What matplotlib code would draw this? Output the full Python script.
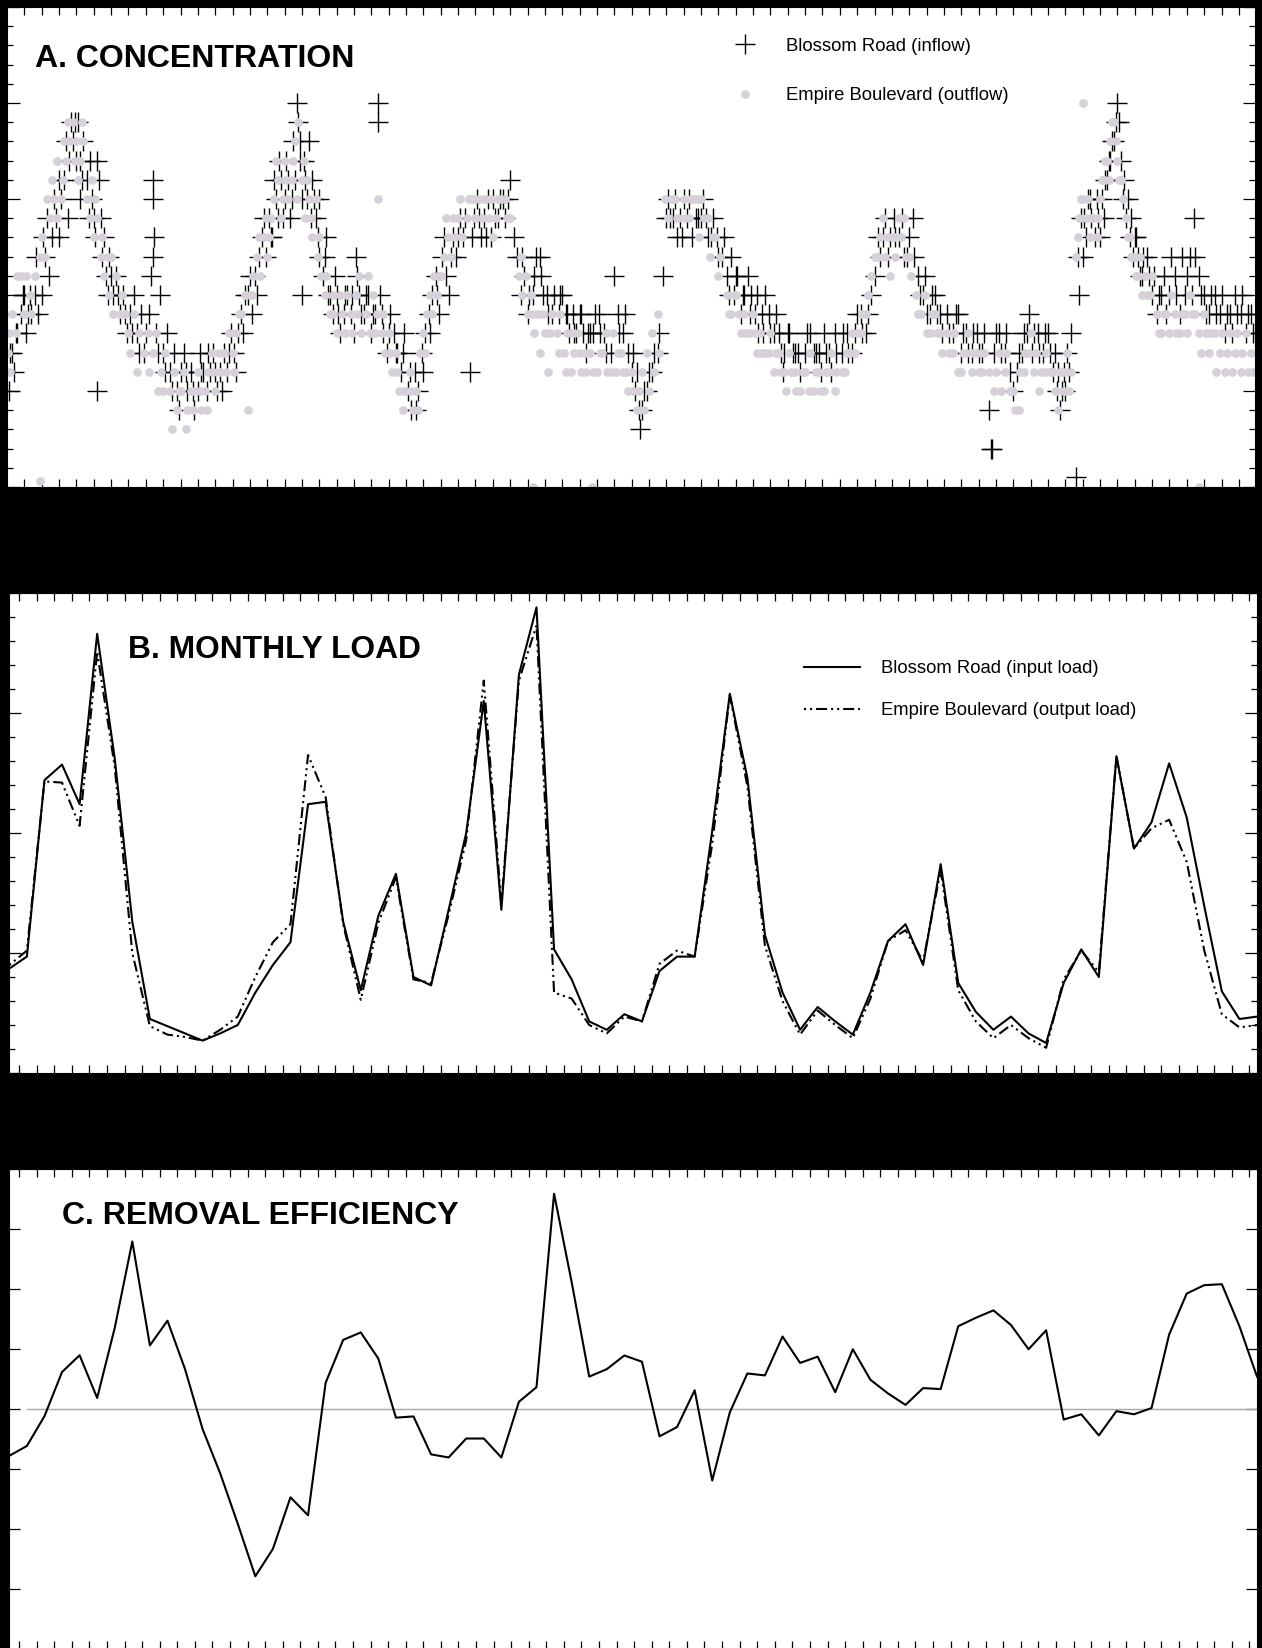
import matplotlib
matplotlib.use("Agg")
from matplotlib import pyplot as plt
from matplotlib.ticker import MultipleLocator, FixedLocator
import numpy as np

plt.rcParams['font.family'] = ['Liberation Sans', 'DejaVu Sans']

# ---- A. concentration samples (month from start, total P mg/L) ----
blossom_conc = [
    (0.1, .05), (0.2, .07), (0.4, .06), (0.6, .08), (0.8, .09), (1.0, .10), (1.2, .09), (1.4, .09),
    (1.6, .10), (1.8, .09), (2.0, .10), (2.2, .12), (2.4, .11), (2.6, .13), (2.8, .14), (3.0, .13),
    (3.1, .15), (3.3, .16), (3.5, .14), (3.6, .17), (3.8, .18), (3.9, .19), (4.1, .19), (4.2, .17),
    (4.3, .16), (4.4, .18), (4.6, .16), (4.7, .14), (4.9, .15), (5.1, .13), (5.2, .17), (5.3, .16),
    (5.2, .05), (5.5, .12), (5.6, .13), (5.7, .11), (5.9, .12), (6.1, .10), (6.3, .11), (6.5, .09),
    (6.7, .10), (6.9, .08), (7.1, .09), (7.3, .10), (7.5, .08), (7.7, .09), (7.9, .07), (8.4, .16),
    (8.4, .15), (8.4, .12), (8.5, .13), (8.2, .09), (8.6, .08), (8.8, .10), (9.0, .07), (9.2, .08),
    (9.4, .06), (9.6, .07), (9.8, .05), (10.0, .06), (10.2, .07), (10.4, .05), (10.6, .06), (10.8, .04),
    (11.0, .05), (11.1, .07), (11.3, .06), (11.5, .05), (11.7, .06), (11.9, .07), (12.1, .05), (12.3, .06),
    (12.5, .07), (12.7, .06), (12.9, .08), (13.1, .07), (13.3, .08), (13.5, .09), (13.7, .10), (13.9, .10),
    (14.1, .09), (14.3, .11), (14.5, .12), (14.7, .13), (14.9, .12), (15.1, .14), (15.3, .13), (15.5, .15),
    (15.6, .14), (15.8, .16), (16.0, .15), (16.1, .17), (16.3, .14), (16.5, .18), (16.6, .16), (16.7, .20),
    (16.8, .19), (16.9, .17), (17.0, .15), (17.2, .16), (17.4, .18), (17.5, .14), (17.7, .15), (17.9, .13),
    (17.0, .10), (18.0, .12), (18.2, .11), (18.4, .13), (18.6, .10), (18.8, .09), (19.0, .10), (19.2, .08),
    (19.4, .09), (19.6, .10), (19.8, .09), (20.0, .08), (20.2, .11), (20.4, .09), (21.4, .20), (21.4, .19),
    (20.6, .09), (20.8, .10), (21.0, .08), (21.2, .09), (21.5, .10), (21.7, .08), (21.9, .07), (22.1, .09),
    (22.3, .08), (22.5, .07), (22.7, .06), (22.9, .08), (23.1, .05), (23.3, .04), (23.5, .06), (23.7, .05),
    (23.9, .07), (24.1, .08), (24.3, .09), (24.5, .10), (24.7, .11), (24.9, .09), (25.1, .12), (25.3, .11),
    (25.5, .10), (25.7, .13), (25.9, .12), (26.1, .14), (26.3, .13), (26.7, .06), (26.9, .14), (27.1, .15),
    (27.3, .13), (27.5, .14), (27.7, .15), (27.9, .13), (28.1, .14), (28.4, .15), (28.7, .14), (29.0, .16),
    (29.4, .12), (29.6, .10), (29.8, .11), (30.0, .09), (30.3, .10), (30.5, .12), (30.7, .12), (30.9, .10),
    (31.2, .09), (31.5, .10), (31.8, .09), (32.0, .10), (32.2, .09), (32.4, .08), (32.6, .09), (32.8, .08),
    (33.0, .09), (33.2, .08), (33.4, .07), (33.6, .08), (33.9, .09), (34.2, .08), (34.5, .07), (35.0, .11),
    (35.3, .08), (35.6, .09), (36.0, .06), (36.2, .05), (36.4, .04), (36.5, .03), (36.7, .05), (37.0, .06),
    (37.3, .07), (37.6, .08), (37.8, .11), (38.0, .14), (38.1, .15), (38.4, .14), (38.6, .13), (38.8, .14),
    (39.0, .15), (39.2, .14), (39.5, .13), (39.8, .14), (40.1, .15), (40.4, .13), (40.7, .14), (41.0, .12),
    (41.3, .13), (41.5, .11), (41.7, .12), (41.9, .10), (42.1, .11), (42.3, .09), (42.5, .10), (42.7, .11),
    (42.9, .10), (43.1, .09), (43.3, .08), (43.5, .09), (43.7, .10), (43.9, .09), (44.2, .08), (44.7, .06),
    (44.5, .08), (44.8, .07), (45.1, .08), (45.4, .07), (45.7, .06), (46.0, .07), (46.3, .08), (46.6, .07),
    (46.9, .06), (47.2, .07), (47.5, .06), (47.8, .07), (48.1, .07), (48.4, .08), (48.7, .07), (49.0, .09),
    (49.3, .08), (49.6, .09), (50.0, .11), (50.3, .12), (50.5, .13), (50.8, .12), (51.1, .14), (51.4, .13),
    (51.7, .12), (52.0, .13), (52.3, .12), (52.5, .11), (52.8, .10), (53.0, .09), (53.3, .10), (53.6, .09),
    (53.9, .08), (54.2, .09), (54.5, .08), (54.8, .09), (55.1, .08), (55.4, .07), (55.7, .08), (56.0, .07),
    (56.3, .08), (56.6, .04), (56.7, .02), (56.8, .02), (56.9, .07), (57.2, .08), (57.5, .07), (57.8, .06),
    (58.0, .05), (58.3, .07), (58.6, .08), (58.9, .09), (59.2, .08), (59.5, .07), (59.8, .08), (60.1, .07),
    (60.3, .06), (60.5, .05), (60.7, .04), (60.9, .06), (61.1, .07), (61.3, .08), (61.6, .005), (61.8, .10),
    (62.0, .12), (62.1, .14), (62.3, .15), (62.5, .14), (62.7, .13), (62.9, .14), (63.1, .15), (63.3, .16),
    (63.5, .17), (63.7, .18), (63.9, .19), (64.0, .20), (64.2, .17), (64.4, .16), (64.6, .15), (64.8, .14),
    (65.0, .13), (65.2, .12), (65.4, .11), (65.7, .12), (66.0, .10), (66.3, .09), (66.5, .10), (66.8, .09),
    (67.0, .10), (67.3, .11), (67.6, .09), (67.9, .10), (68.2, .12), (68.4, .14), (68.7, .11), (69.0, .10),
    (69.3, .09), (69.6, .10), (69.9, .09), (70.2, .08), (70.5, .09), (70.8, .10), (71.1, .09), (71.4, .08),
    (71.7, .09),
    (0.3, .07), (0.5, .08), (0.9, .10), (1.1, .08), (1.3, .10), (1.7, .12), (2.1, .13), (2.3, .14),
    (2.7, .15), (3.0, .16), (3.4, .18), (3.7, .19), (4.0, .17), (4.2, .15), (4.8, .17), (5.0, .14),
    (5.4, .14), (5.8, .10), (6.0, .11), (6.4, .10), (6.8, .09), (7.2, .08), (7.6, .07), (8.0, .08),
    (8.3, .11), (8.7, .07), (9.1, .06), (9.5, .05), (9.9, .04), (10.3, .06), (10.7, .05), (11.2, .06),
    (11.6, .07), (12.0, .06), (12.4, .05), (12.8, .07), (13.2, .06), (13.6, .08), (14.0, .11), (14.4, .10),
    (14.8, .14), (15.2, .13), (15.4, .16), (15.7, .17), (15.9, .14), (16.2, .16), (16.4, .15), (16.9, .18),
    (17.1, .17), (17.3, .15), (17.6, .16), (17.8, .14), (18.0, .15), (18.3, .12), (18.5, .10), (18.9, .11),
    (19.1, .09), (19.5, .10), (19.9, .10), (20.1, .12), (20.3, .10), (20.7, .10), (21.1, .09), (21.6, .09),
    (22.0, .08), (22.4, .07), (22.8, .07), (23.2, .06), (23.6, .04), (24.0, .06), (24.4, .08), (24.8, .10),
    (25.2, .13), (25.6, .12), (26.0, .13), (26.4, .14), (26.8, .13), (27.2, .14), (27.6, .13), (28.0, .15),
    (28.3, .14), (28.6, .15), (28.9, .15), (29.2, .13), (29.7, .12), (30.1, .10), (30.4, .11), (30.8, .11),
    (31.1, .10), (31.4, .09), (31.9, .10), (32.3, .09), (32.7, .08), (33.1, .09), (33.5, .08), (33.8, .08),
    (34.1, .09), (34.4, .08), (34.8, .07), (35.2, .09), (35.5, .08), (35.8, .07), (36.1, .07), (36.3, .06),
    (36.6, .04), (36.9, .05), (37.2, .06), (37.5, .07), (38.2, .14), (38.5, .15), (38.9, .13), (39.3, .15),
    (39.7, .14), (40.0, .14), (40.3, .14), (40.6, .13), (40.9, .13), (41.2, .12), (41.6, .10), (42.0, .11),
    (42.4, .10), (42.8, .09), (43.2, .10), (43.6, .08), (44.0, .08), (44.3, .09), (44.6, .07), (45.0, .08),
    (45.3, .07), (45.6, .07), (46.1, .08), (46.5, .07), (46.8, .07), (47.1, .08), (47.4, .07), (47.7, .08),
    (48.2, .08), (48.5, .07), (48.9, .08), (49.2, .09), (49.5, .08), (49.8, .10), (50.2, .13), (50.6, .14),
    (50.9, .13), (51.2, .13), (51.6, .14), (51.9, .12), (52.2, .14), (52.6, .10), (52.9, .11), (53.2, .09),
    (53.5, .10), (53.8, .09), (54.3, .08), (54.7, .09), (55.0, .07), (55.3, .08), (55.6, .07), (55.9, .08),
    (56.2, .07), (57.0, .08), (57.3, .07), (57.6, .08), (58.2, .06), (58.5, .07), (58.8, .08), (59.1, .07),
    (59.4, .08), (59.7, .07), (60.0, .08), (60.4, .07), (60.6, .06), (60.8, .05), (61.0, .05), (61.2, .06),
    (61.7, .12), (61.9, .14), (62.2, .13), (62.4, .15), (62.8, .15), (63.0, .13), (63.2, .14), (63.4, .16),
    (63.6, .17), (63.8, .18), (64.1, .19), (64.3, .15), (64.5, .14), (64.7, .13), (64.9, .12), (65.1, .13),
    (65.3, .11), (65.5, .12), (65.8, .11), (66.1, .11), (66.4, .10), (66.7, .11), (67.1, .12), (67.4, .10),
    (67.7, .12), (68.0, .11), (68.3, .10), (68.5, .12), (68.8, .10), (69.1, .09), (69.4, .10), (69.7, .09),
    (70.0, .10), (70.3, .09), (70.6, .08), (70.9, .09), (71.2, .10), (71.5, .09), (71.8, .08),
]

empire_conc = [
    (0.05, .07), (0.2, .06), (0.5, .08), (0.8, .11), (1.0, .09), (1.3, .10), (1.6, .11), (1.9, .12),
    (1.9, .003), (2.2, .12), (2.5, .14), (2.7, .15), (2.9, .14), (3.2, .16), (3.4, .17), (3.6, .18),
    (3.8, .19), (4.0, .18), (4.2, .17), (4.4, .18), (4.6, .15), (4.8, .14), (5.0, .13), (5.2, .14),
    (5.4, .12), (5.6, .11), (5.9, .10), (6.1, .09), (6.3, .11), (6.6, .10), (6.8, .09), (7.0, .08),
    (7.3, .09), (7.6, .08), (7.9, .07), (8.2, .06), (8.4, .07), (8.6, .08), (8.9, .06), (9.1, .07),
    (9.4, .05), (9.6, .06), (9.8, .04), (10.0, .05), (10.2, .06), (10.4, .04), (10.6, .05), (10.8, .05),
    (11.0, .06), (11.2, .04), (11.4, .05), (11.6, .06), (11.8, .07), (12.0, .05), (12.3, .06), (12.5, .07),
    (12.8, .08), (13.0, .07), (13.2, .08), (13.5, .09), (13.7, .10), (13.9, .04), (14.0, .10), (14.2, .11),
    (14.4, .12), (14.6, .11), (14.8, .13), (15.0, .12), (15.2, .14), (15.4, .15), (15.6, .16), (15.8, .14),
    (16.0, .17), (16.2, .15), (16.4, .16), (16.6, .18), (16.8, .19), (17.0, .16), (17.2, .14), (17.4, .15),
    (17.6, .13), (17.9, .12), (18.1, .11), (18.3, .10), (18.6, .09), (18.8, .10), (19.0, .08), (19.3, .09),
    (19.6, .10), (19.9, .08), (20.2, .09), (20.4, .08), (21.4, .15), (20.7, .09), (20.9, .08), (21.1, .10),
    (21.3, .09), (21.6, .08), (21.8, .07), (22.0, .08), (22.2, .06), (22.4, .07), (22.6, .05), (22.8, .04),
    (23.0, .05), (23.2, .06), (23.4, .04), (23.6, .05), (23.8, .07), (24.0, .08), (24.2, .09), (24.4, .10),
    (24.6, .11), (24.8, .10), (25.0, .11), (25.2, .12), (25.4, .13), (25.6, .12), (25.8, .13), (26.0, .14),
    (26.2, .13), (26.5, .14), (26.8, .15), (27.0, .14), (27.2, .15), (27.4, .14), (27.6, .15), (27.8, .14),
    (28.0, .13), (28.2, .14), (28.5, .15), (28.8, .14), (29.5, .11), (29.7, .10), (30.0, .09), (30.2, .10),
    (30.4, .08), (30.7, .07), (31.0, .08), (31.2, .06), (31.4, .09), (30.3, .0), (31.7, .08), (31.9, .09),
    (32.1, .07), (32.3, .08), (32.5, .06), (32.7, .07), (32.9, .08), (33.1, .06), (33.3, .07), (33.6, .07),
    (33.7, .0), (34.0, .06), (34.3, .07), (34.6, .06), (34.9, .08), (35.2, .07), (35.5, .06), (35.8, .05),
    (36.1, .05), (36.3, .04), (36.6, .06), (36.9, .07), (37.2, .08), (37.5, .09), (37.9, .15), (38.1, .14),
    (38.5, .15), (38.7, .14), (39.0, .15), (39.3, .14), (39.6, .15), (39.9, .13), (40.2, .14), (40.5, .12),
    (40.8, .13), (41.1, .12), (41.5, .10), (41.7, .09), (42.0, .10), (42.3, .08), (42.5, .09), (42.8, .08),
    (43.0, .09), (43.2, .07), (43.4, .08), (43.7, .07), (44.0, .08), (44.2, .06), (44.5, .07), (44.8, .06),
    (45.1, .07), (45.4, .06), (45.7, .05), (46.0, .06), (46.3, .07), (46.6, .06), (46.9, .05), (47.2, .06),
    (47.5, .07), (47.8, .06), (48.1, .06), (48.4, .07), (48.7, .08), (49.0, .08), (49.3, .09), (49.6, .10),
    (50.0, .12), (50.3, .13), (50.6, .12), (50.9, .11), (51.2, .12), (51.5, .13), (51.8, .12), (52.1, .11),
    (52.4, .10), (52.7, .09), (53.0, .08), (53.3, .09), (53.6, .08), (53.9, .07), (54.2, .08), (54.5, .07),
    (54.8, .06), (55.1, .07), (55.4, .08), (55.7, .07), (56.0, .06), (56.3, .07), (56.6, .06), (56.9, .05),
    (57.2, .07), (57.5, .06), (57.8, .05), (58.1, .04), (58.4, .06), (58.7, .07), (59.0, .08), (59.3, .07),
    (59.6, .06), (59.9, .07), (60.3, .06), (60.5, .05), (60.7, .06), (60.9, .05), (61.1, .07), (61.3, .06),
    (61.6, .12), (61.8, .14), (62.0, .15), (62.2, .14), (62.4, .13), (62.0, .20), (62.6, .14), (62.8, .13),
    (63.0, .15), (63.2, .16), (63.4, .17), (63.6, .18), (63.8, .19), (64.0, .17), (64.2, .16), (64.5, .14),
    (64.7, .13), (64.9, .12), (65.1, .11), (65.3, .12), (65.6, .11), (65.9, .10), (66.3, .09), (66.5, .08),
    (66.8, .09), (67.0, .08), (67.3, .09), (67.6, .08), (67.9, .09), (68.2, .10), (68.5, .09), (68.7, .0),
    (68.7, .08), (69.0, .09), (69.3, .07), (69.6, .08), (69.9, .07), (70.2, .06), (70.5, .08), (70.8, .07),
    (71.1, .06), (71.4, .08), (71.7, .07),
    (0.1, .08), (0.3, .09), (0.6, .11), (1.1, .11), (1.4, .09), (2.0, .13), (2.3, .15), (2.6, .16),
    (2.9, .17), (3.1, .15), (3.3, .18), (3.5, .19), (3.9, .17), (4.1, .16), (4.3, .19), (4.9, .16),
    (5.1, .15), (5.5, .13), (5.8, .12), (6.0, .12), (6.5, .09), (7.1, .07), (7.5, .06), (8.1, .08),
    (8.7, .05), (9.0, .05), (9.5, .03), (9.9, .05), (10.3, .03), (10.7, .04), (11.1, .05), (11.5, .04),
    (11.9, .06), (12.2, .07), (12.6, .06), (13.1, .06), (13.4, .09), (14.1, .10), (14.5, .13), (14.9, .14),
    (15.1, .13), (15.5, .17), (15.9, .15), (16.1, .16), (16.5, .17), (16.7, .15), (17.1, .17), (17.3, .16),
    (17.5, .14), (17.8, .15), (18.0, .13), (18.4, .11), (18.8, .09), (19.2, .10), (19.5, .08), (19.8, .09),
    (20.1, .10), (20.3, .11), (20.8, .11), (21.2, .08), (21.7, .09), (22.1, .07), (22.5, .06), (22.9, .05),
    (23.3, .05), (23.7, .04), (24.1, .07), (24.5, .09), (24.9, .11), (25.3, .14), (25.7, .14), (26.1, .15),
    (26.6, .15), (27.0, .15), (27.5, .15), (27.9, .15), (28.3, .15), (28.7, .15), (29.0, .14), (29.6, .12),
    (29.9, .11), (30.3, .09), (30.6, .09), (30.9, .09), (31.3, .08), (31.8, .07), (32.2, .06), (32.6, .08),
    (33.0, .07), (33.4, .06), (33.8, .06), (34.2, .07), (34.5, .08), (34.8, .06), (35.1, .06), (35.4, .07),
    (35.7, .06), (36.0, .06), (36.4, .05), (36.7, .04), (37.0, .05), (37.3, .06), (37.6, .07), (38.3, .15),
    (38.6, .14), (39.1, .14), (39.4, .15), (39.8, .15), (40.0, .15), (40.4, .14), (40.7, .13), (41.0, .11),
    (41.6, .09), (41.9, .10), (42.2, .09), (42.6, .08), (43.1, .08), (43.5, .07), (43.9, .07), (44.3, .07),
    (44.6, .06), (44.9, .05), (45.2, .06), (45.5, .05), (45.9, .06), (46.2, .05), (46.5, .05), (46.8, .06),
    (47.1, .05), (47.4, .06), (47.7, .05), (48.3, .06), (48.6, .07), (48.9, .07), (49.2, .08), (49.5, .09),
    (49.8, .11), (50.2, .12), (50.5, .14), (50.8, .13), (51.1, .13), (51.4, .14), (51.7, .14), (52.0, .12),
    (52.5, .09), (52.9, .10), (53.2, .08), (53.5, .09), (53.8, .08), (54.3, .07), (54.6, .08), (55.0, .06),
    (55.3, .07), (55.6, .06), (55.9, .07), (56.2, .06), (57.0, .06), (57.3, .05), (57.6, .07), (58.0, .05),
    (58.3, .04), (58.6, .06), (58.9, .07), (59.2, .06), (59.5, .05), (59.8, .06), (60.1, .06), (60.4, .05),
    (60.6, .04), (60.8, .06), (61.0, .06), (61.2, .05), (61.7, .13), (61.9, .15), (62.3, .15), (62.5, .14),
    (62.9, .14), (63.1, .16), (63.3, .17), (63.5, .16), (63.7, .19), (63.9, .18), (64.1, .16), (64.3, .15),
    (64.6, .13), (64.8, .12), (65.0, .12), (65.2, .11), (65.4, .10), (65.7, .10), (66.0, .11), (66.4, .08),
    (66.7, .09), (67.1, .10), (67.4, .08), (67.7, .09), (68.0, .08), (68.3, .09), (68.8, .07), (69.1, .08),
    (69.4, .08), (69.7, .06), (70.0, .08), (70.3, .07), (70.6, .06), (70.9, .08), (71.2, .07), (71.5, .06),
    (71.8, .06),
]

# ---- B. monthly load (kg) and C. removal efficiency (%) ----
month_idx = list(range(72))
blossom_load = [
    87, 97, 244, 257, 224, 366, 262, 126, 45, 39, 33, 27, 33, 40, 67, 90, 109, 224,
    226, 126, 69, 131, 166, 80, 73, 136, 200, 310, 136, 332, 388, 103, 78, 43, 36, 49,
    43, 85, 97, 97, 202, 316, 246, 115, 67, 36, 55, 43, 32, 67, 110, 124, 90, 174,
    75, 51, 36, 47, 33, 25, 75, 103, 80, 264, 187, 209, 258, 213, 139, 68, 45, 47,
]
empire_load = [
    90, 102, 243, 242, 206, 351, 255, 100, 39, 32, 30, 27, 36, 47, 80, 109, 124, 265,
    230, 124, 61, 125, 163, 78, 75, 132, 194, 327, 141, 327, 373, 67, 62, 40, 33, 47,
    43, 91, 102, 97, 191, 315, 239, 106, 60, 32, 52, 40, 29, 62, 110, 119, 93, 169,
    69, 43, 29, 40, 29, 21, 78, 102, 84, 264, 187, 204, 211, 176, 102, 49, 38, 40,
]
removal_eff = [
    -19.5, -15.4, -3, 15.4, 22.4, 4.6, 33.8, 69.8, 26.5, 36.8, 16.6, -8.4, -26.8, -47.8, -69.7, -58.3,
    -36.8, -44.3, 10.9, 28.8, 31.9, 21, -3.6, -3.1, -18.9, -20.2, -12.3, -12.3, -20.2, 3, 9.1, 89.7,
    52.9, 13.5, 16.6, 22.3, 19.7, -11.4, -7.5, 7.8, -29.8, -1.4, 14.8, 14, 30.2, 19.2, 21.8, 7,
    24.9, 12.2, 6.5, 1.7, 8.7, 8.3, 34.5, 38, 41.1, 35, 24.9, 32.8, -4.4, -2.2, -11, -0.9,
    -2.2, 0.4, 31, 48.1, 51.6, 52, 34.5, 13.5,
]

W, H = 1262, 1648
fig = plt.figure(figsize=(W / 100, H / 100), dpi=100, facecolor='black')


def panel(left, top, right, bottom):
    ax = fig.add_axes([left / W, 1 - bottom / H, (right - left) / W, (bottom - top) / H])
    ax.set_facecolor('white')
    ax.tick_params(which='both', direction='in', top=True, right=True,
                   labelbottom=False, labelleft=False, color='black', width=0.9)
    ax.tick_params(axis='x', which='major', length=6)
    return ax


gray = '#d6d1d9'

# ---- panel A ----
axA = panel(7, 7, 1255, 487)
bx, by = zip(*blossom_conc)
ex, ey = zip(*empire_conc)
axA.plot(bx, by, ls='none', marker='+', ms=14.5, mew=1.0, color='black',
         label='Blossom Road (inflow)')
axA.plot(ex, ey, ls='none', marker='o', ms=6.3, mec='none', color=gray,
         label='Empire Boulevard (outflow)')
axA.set_xlim(0, 71.93)
axA.set_ylim(0, 0.25)
axA.xaxis.set_major_locator(FixedLocator(np.arange(1, 72)))
axA.yaxis.set_major_locator(MultipleLocator(0.05))
axA.yaxis.set_minor_locator(MultipleLocator(0.01))
axA.tick_params(axis='y', which='major', length=9)
axA.tick_params(axis='y', which='minor', length=4)
axA.text(0.0225, 0.876, 'A. CONCENTRATION', transform=axA.transAxes,
         fontsize=23, fontweight='bold', va='baseline')
axA.legend(loc='upper left', bbox_to_anchor=(0.5765, 0.936), frameon=False,
           fontsize=13.3, borderpad=0, handlelength=2, handletextpad=1.2,
           labelspacing=1.75, borderaxespad=0)

# ---- panel B ----
axB = panel(9.3, 593, 1257, 1073)
axB.plot(month_idx, blossom_load, color='black', lw=1.5,
         label='Blossom Road (input load)')
axB.plot(month_idx, empire_load, color='black', lw=1.5,
         ls=(7.2, (5.3, 1.9, 1, 1.9, 1, 1.9)),
         label='Empire Boulevard (output load)')
axB.set_xlim(0, 71)
axB.set_ylim(0, 400)
axB.xaxis.set_major_locator(FixedLocator(np.arange(71) + 0.56))
axB.yaxis.set_major_locator(MultipleLocator(100))
axB.yaxis.set_minor_locator(MultipleLocator(20))
axB.tick_params(axis='y', which='major', length=8.5)
axB.tick_params(axis='y', which='minor', length=4)
axB.text(0.0955, 0.864, 'B. MONTHLY LOAD', transform=axB.transAxes,
         fontsize=22.9, fontweight='bold', va='baseline')
axB.legend(loc='upper left', bbox_to_anchor=(0.637, 0.86), frameon=False,
           fontsize=13.3, borderpad=0, handlelength=3, handletextpad=1.16,
           labelspacing=1.35, borderaxespad=0)

# ---- panel C ----
axC = panel(9.3, 1169, 1257, 1649)
axC.plot([month_idx[1], month_idx[-1]], [0, 0], color='#a8a8a8', lw=1.0)
axC.plot(month_idx, removal_eff, color='black', lw=1.5)
axC.set_xlim(0, 71)
axC.set_ylim(-100, 100)
axC.xaxis.set_major_locator(FixedLocator(np.arange(71) + 0.56))
axC.yaxis.set_major_locator(MultipleLocator(25))
axC.tick_params(axis='y', which='major', length=8)
axC.text(0.042, 0.886, 'C. REMOVAL EFFICIENCY', transform=axC.transAxes,
         fontsize=23, fontweight='bold', va='baseline')

fig.savefig('out.png', dpi=100, facecolor='black')
